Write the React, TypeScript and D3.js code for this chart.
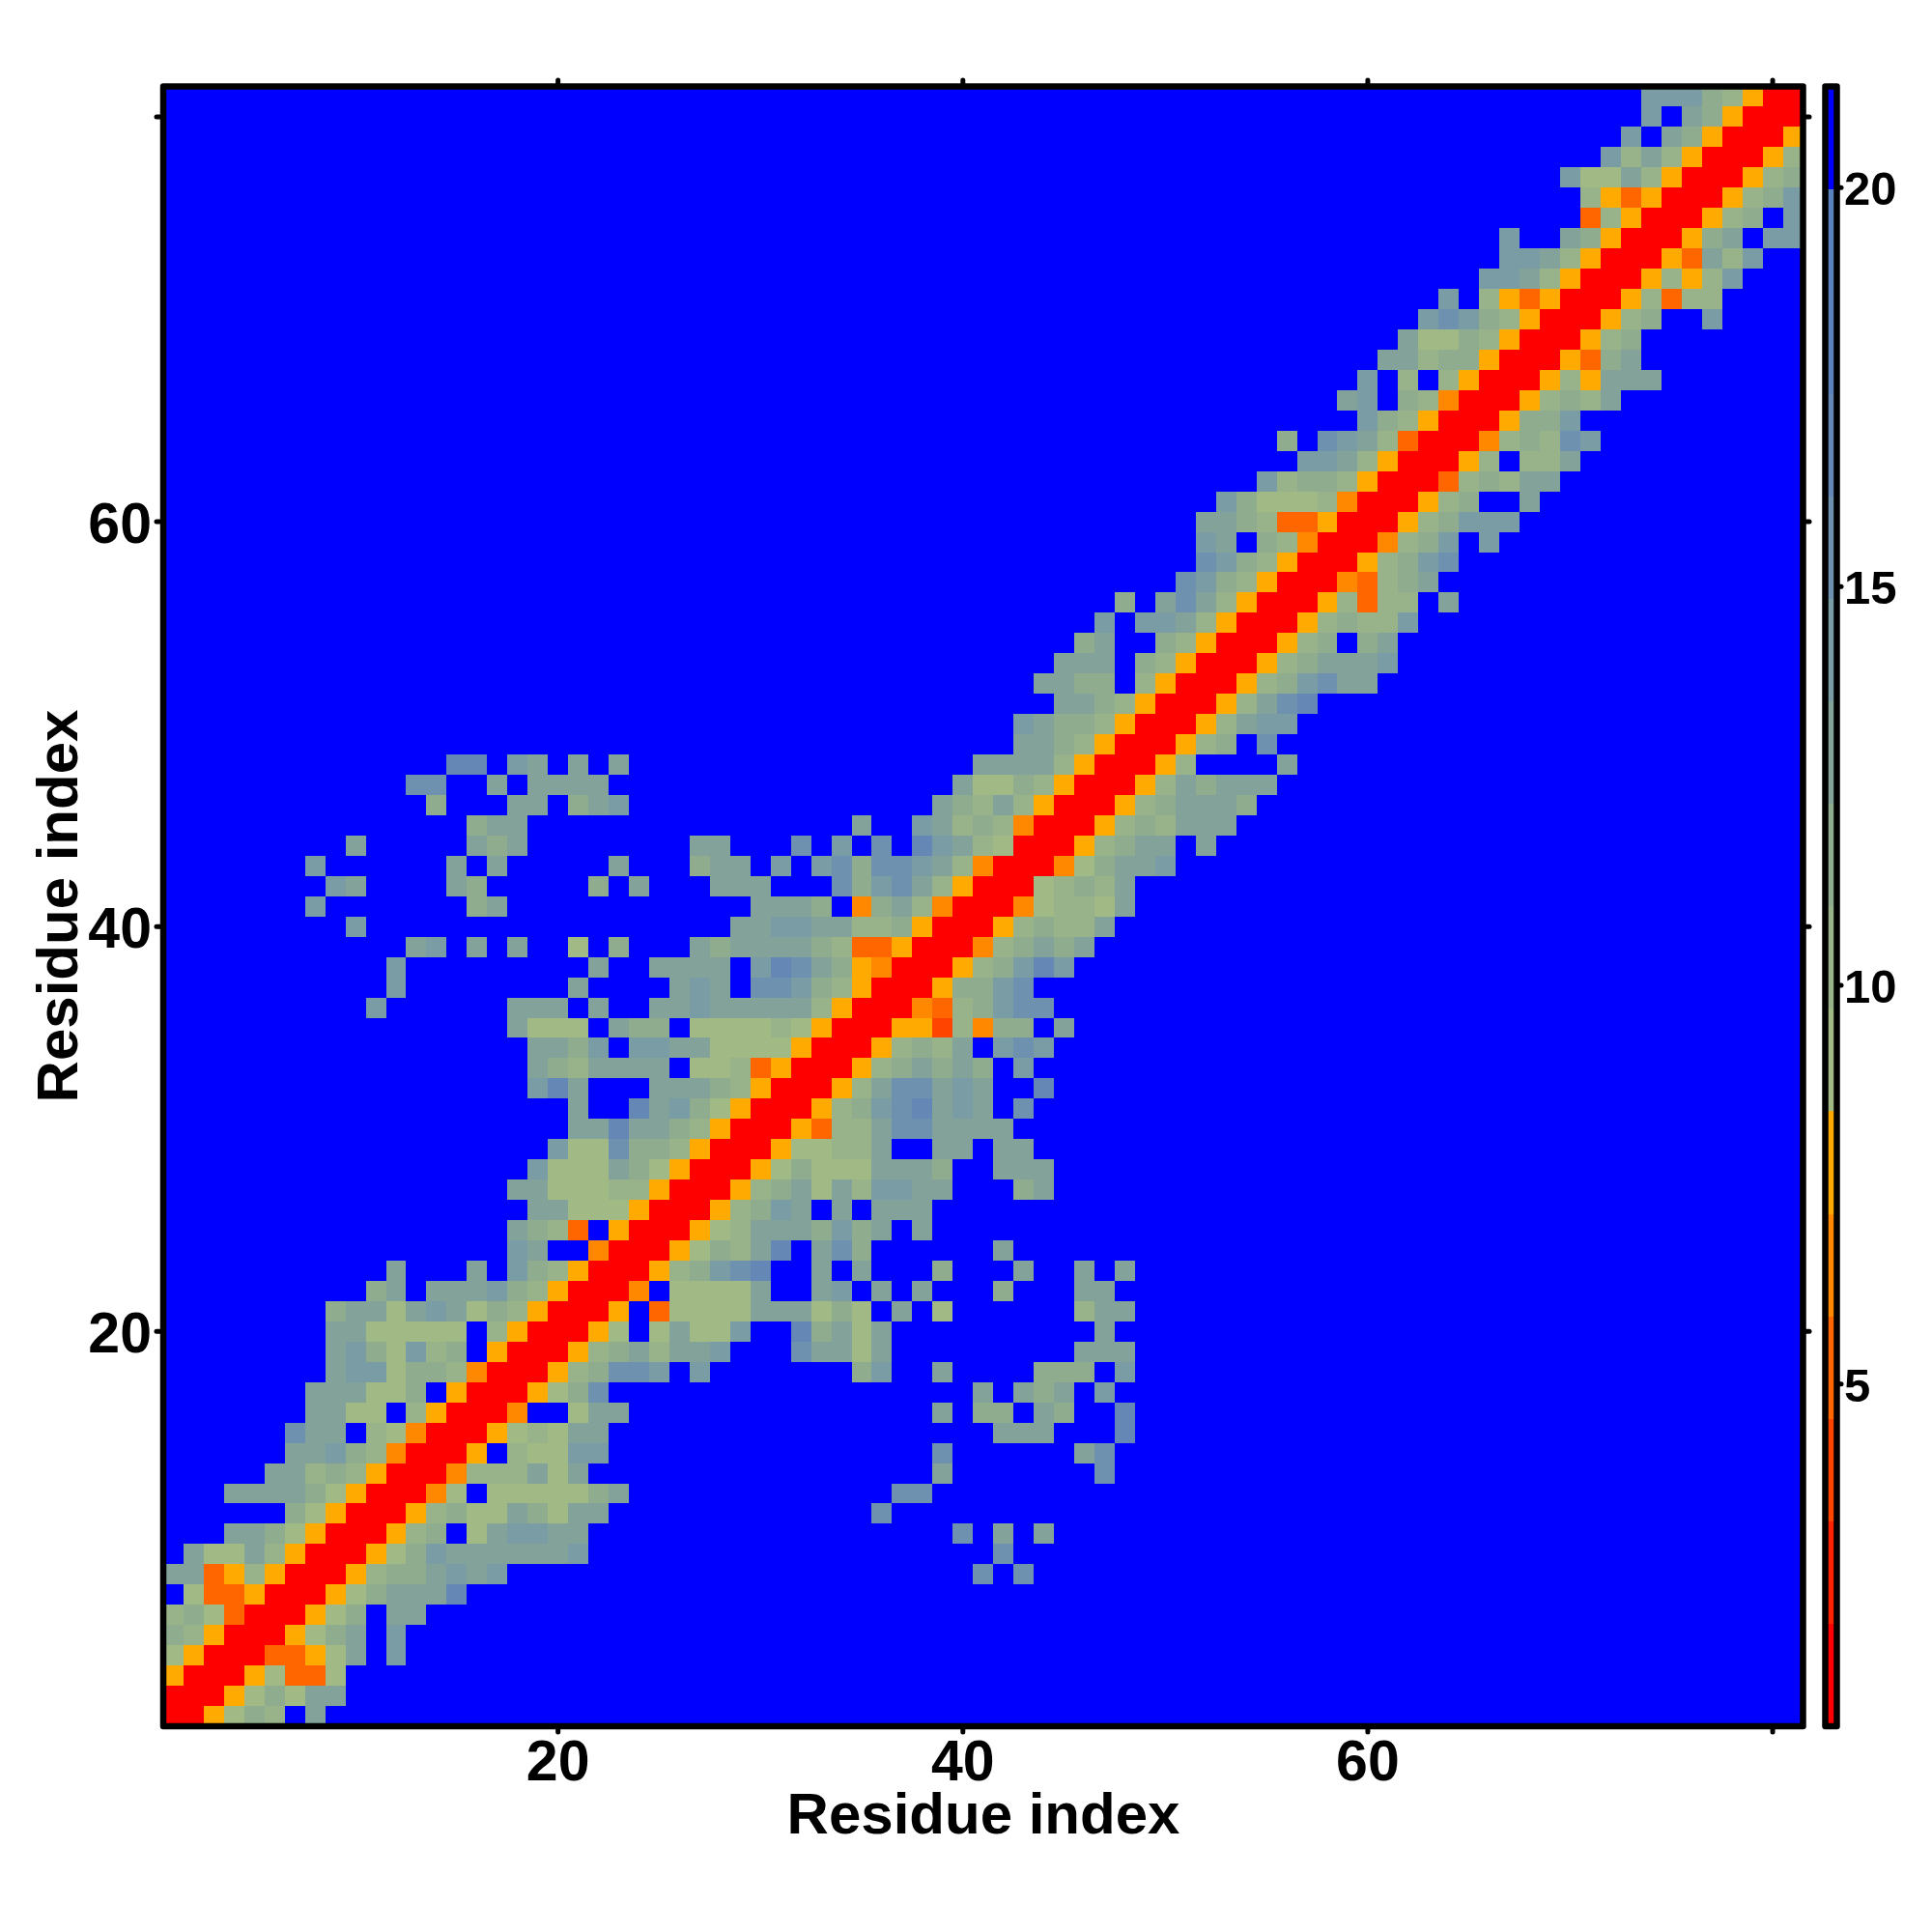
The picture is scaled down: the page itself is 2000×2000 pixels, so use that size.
import React from "react";
import * as d3 from "d3";

// Each entry is one residue row (1 at the bottom). Segments are "startColumn:levels";
// levels are hex band indexes of the contour key, "." and missing cells are the top band.
const rowCells: string[] = [
  "1:005687.9",
  "1:000568699",
  "1:500056336",
  "1:6500033569.a",
  "1:8750005689.a",
  "1:7863000568.99",
  "1:.6335000568999c",
  "1:99357500057889a9a 41:b.b",
  "1:.966975000568a999999a 42:b",
  "4:99865000578.69aa99 40:b.9.9",
  "7:8650005786698699 36:b",
  "4:999986500046.6666689 37:bb",
  "6:9978750004777969 39:9 47:b",
  "7:99a8740005.766aa 39:b 46:9b",
  "7:b99.764000567699 42:999 48:c",
  "8:9966.750004..699 39:9.88.98 48:c",
  "8:999668.5000568b 41:9.989 47:a",
  "9:9aa68874000578bba.a 35:8a..9....888.a",
  "9:9a86a78.50005789799a...b9969 46:999",
  "9:9966666.7500056.6966a..c8969 47:9",
  "9:89969a968750005.36666999686.9.6 46:799",
  "11:89.999a8750004.66669..9a.9.9...8...99",
  "12:9 16:9 18:a8750005 26:78abc..9.9...8...9..9.9",
  "18:a9..400056879c.9b8 42:9",
  "18:9873.50005679998a89.9",
  "19:996665000578a9.9.999",
  "18:996667750005789697aa99...89",
  "19:a66698650005686669998..999",
  "20:a66b8875000566779..99.99",
  "21:99c9987500053779bb9999",
  "21:9..c9a865000578abc9a9.b",
  "19:ac9...999875000579bb9a9..c",
  "19:9879999.667350005789898.a",
  "19:998a.aa996666500057879.aba",
  "18:9666.988.66667650005527488.9",
  "11:a 18:999.9..99a99999750004378abb",
  "12:a 21:9 26:9a9.bba875000588ab",
  "12:a 22:9 25:9999.acb9854000578aca",
  "13:9a 16:9 18:9 21:6 23:8 27:98999987335000478989",
  "10:a 29:99aa997785000578779",
  "8:a 16:89 30:9998.48974000467769",
  "9:a9 15:98 22:8.9 28:999...b8ab97500067879",
  "8:a 15:9.9 23:9 27:899.a.ab8bba97400046899a",
  "10:9 16:989 27:99 32:b.a.b.ca97600057899.9",
  "16:899 35:9..a978740005787999",
  "14:8 18:99.89a 39:9879750005789998",
  "13:bb 17:9.9999 40:9668750005798999",
  "15:cc 18:a9.9.9 41:99997500057 56:9",
  "43:99875000578.b",
  "43:a98875000579aa",
  "45:99875000579bc",
  "44:9988.75000578ab99",
  "45:999.875000578999a",
  "46:89..875000578.89",
  "47:a.aa97500057877a",
  "48:8.9b97500057377.9",
  "51:ba87500043789",
  "52:ba875000578ab",
  "52:a9.874000478a.a",
  "52:9987335000578aaa",
  "53:a866674000578..9",
  "55:a78875000378799",
  "57:aa97500057.779",
  "56:8.ba9730004787ba",
  "60:a875000588a",
  "59:9a.87400057879",
  "60:a.7.75000575999",
  "61:9978850005389",
  "62:966875000578",
  "63:aba875000578..a",
  "64:a.753500057377",
  "66:aa9750005757a",
  "67:aa9750005397a",
  "67:a 70:985000589.aa",
  "71:375000578.a",
  "71:7535000578a",
  "70:a66975000578",
  "72:a797500057",
  "73:a.9850005",
  "74:a.985000",
  "74:aaa87500",
];

const residueCount = 81;
const residueTicks = [20, 40, 60, 80];
const labelledTicks = [20, 40, 60];
const keyTicks = [5, 10, 15, 20];
const keyDomain: [number, number] = [0.71, 21.27];
const bandColors = [
  "#ff0000", "#ff2200", "#ff4400", "#ff6600", "#ff8800", "#ffaa00",
  "#a0b985", "#98b28a", "#8fac8f", "#82a29a", "#7a9ca4", "#6d91ae",
  "#6487b6", "#5c83bc", "#5a82be", "#0000ff",
];
const axisTitle = "Residue index";

const FONT = "'Liberation Sans', Arial, sans-serif";
const bandWidth = (keyDomain[1] - keyDomain[0]) / bandColors.length;

function parseMatrix(): { row: number; col: number; value: number }[] {
  const levels: number[][] = d3.range(residueCount).map(() => d3.range(residueCount).map(() => 15));
  rowCells.forEach((line, r) => {
    line.split(" ").filter(Boolean).forEach((seg) => {
      const [start, digits] = seg.split(":");
      digits.split("").forEach((ch, i) => {
        const c = +start - 1 + i;
        if (ch !== "." && c < residueCount) levels[r][c] = parseInt(ch, 16);
      });
    });
  });
  const out: { row: number; col: number; value: number }[] = [];
  levels.forEach((cols, r) =>
    cols.forEach((lv, c) =>
      out.push({ row: r + 1, col: c + 1, value: keyDomain[0] + (lv + 0.5) * bandWidth })
    )
  );
  return out;
}

export default function App() {
  const x = d3.scaleLinear().domain([0.5, residueCount + 0.5]).range([169, 1866.5]);
  const y = d3.scaleLinear().domain([0.5, residueCount + 0.5]).range([1787, 89.5]);
  const keyY = d3.scaleLinear().domain(keyDomain).range([1787, 89.5]);
  const color = d3.scaleQuantize<string>().domain(keyDomain).range(bandColors);
  const cells = parseMatrix();
  const tickProps = { stroke: "#000", strokeWidth: 5, strokeLinecap: "round" as const };
  const frame = {
    fill: "none",
    stroke: "#000",
    strokeWidth: 6.5,
    strokeLinejoin: "round" as const,
  };

  return (
    <svg
      width={2000}
      height={2000}
      viewBox="0 0 2000 2000"
      style={{ position: "absolute", left: 0, top: 0, background: "#fff" }}
      fontFamily={FONT}
      fontWeight="bold"
    >
      <g shapeRendering="crispEdges">
        {cells.map((d) => (
          <rect
            key={`${d.row}-${d.col}`}
            x={x(d.col - 0.5)}
            y={y(d.row + 0.5)}
            width={x(d.col + 0.5) - x(d.col - 0.5)}
            height={y(d.row - 0.5) - y(d.row + 0.5)}
            fill={color(d.value)}
          />
        ))}
      </g>
      {residueTicks.map((t) => (
        <g key={t} {...tickProps}>
          <line x1={x(t)} x2={x(t)} y1={1787} y2={1793} />
          <line x1={x(t)} x2={x(t)} y1={89.5} y2={83} />
          <line x1={169} x2={162} y1={y(t)} y2={y(t)} />
          <line x1={1866.5} x2={1873} y1={y(t)} y2={y(t)} />
        </g>
      ))}
      <rect x={169} y={89.5} width={1697.5} height={1697.5} {...frame} />
      {labelledTicks.map((t) => (
        <text key={`x${t}`} x={x(t)} y={1843} fontSize={59} textAnchor="middle">
          {t}
        </text>
      ))}
      {labelledTicks.map((t) => (
        <text key={`y${t}`} x={157} y={y(t) + 22} fontSize={59} textAnchor="end">
          {t}
        </text>
      ))}
      <text x={1018} y={1898} fontSize={60} textAnchor="middle">
        {axisTitle}
      </text>
      <text
        transform={`translate(80,938) rotate(-90)`}
        fontSize={60}
        textAnchor="middle"
      >
        {axisTitle}
      </text>

      <g shapeRendering="crispEdges">
        {bandColors.map((c, i) => (
          <rect
            key={i}
            x={1889.5}
            width={12}
            y={keyY(keyDomain[0] + (i + 1) * bandWidth)}
            height={keyY(keyDomain[0] + i * bandWidth) - keyY(keyDomain[0] + (i + 1) * bandWidth)}
            fill={c}
          />
        ))}
      </g>
      {keyTicks.map((t) => (
        <line key={t} {...tickProps} x1={1901.5} x2={1906} y1={keyY(t)} y2={keyY(t)} />
      ))}
      <rect x={1889.5} y={89.5} width={12} height={1697.5} {...frame} />
      {keyTicks.map((t) => (
        <text key={`k${t}`} x={1909} y={keyY(t) + 18} fontSize={49}>
          {t}
        </text>
      ))}
    </svg>
  );
}
